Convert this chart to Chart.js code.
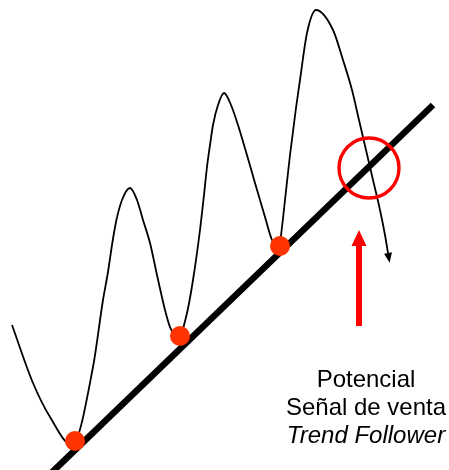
<!DOCTYPE html>
<html>
<head>
<meta charset="utf-8">
<script src="https://cdn.jsdelivr.net/npm/chart.js@4.4.1/dist/chart.umd.min.js"></script>
<style>
  html, body { margin: 0; padding: 0; background: #fff; }
  #wrap { width: 449px; height: 470px; position: relative; }
</style>
</head>
<body>
<div id="wrap"><canvas id="trendChart"></canvas></div>
<script>
// precio (curva fina)
const waveX = [12, 33, 50, 72, 93, 103, 108, 112, 116, 122, 130, 137, 143, 150, 157, 165, 170, 178,
  187, 193, 200, 204, 207, 210, 213, 218, 224, 231, 238, 244, 249, 255, 265, 272, 279,
  282, 285, 290, 296, 300, 307, 316, 333, 343, 352, 359, 366, 373, 380, 385, 388];
const waveY = [325, 383, 417, 445, 367, 300, 272, 245, 222, 200, 188, 200, 220, 243, 275, 310, 327, 339,
  313, 280, 230, 195, 167, 145, 125, 105, 93, 105, 125, 145, 162, 183, 217, 240, 248,
  227, 200, 155, 108, 80, 33, 10, 30, 60, 90, 120, 150, 180, 210, 235, 253];

// linea de tendencia
const trendX = [45, 433];
const trendY = [479, 105];

// minimos que tocan la tendencia
const touchX = [75, 180, 280];
const touchY = [441, 336, 246];

// ruptura
const breakX = [369];
const breakY = [168];

// flecha roja
const signalX = [359, 359];
const signalY = [326, 246];

const signalText = ["Potencial", "Señal de venta", "Trend Follower"];

function pts(xs, ys) {
  return xs.map(function (x, i) { return { x: x, y: ys[i] }; });
}

// dibuja la punta de flecha al final de los datasets marcados
const arrowHeads = {
  id: "arrowHeads",
  afterDatasetsDraw(chart) {
    const ctx = chart.ctx;
    const xs = chart.scales.x, ys = chart.scales.y;
    chart.data.datasets.forEach(function (ds) {
      if (!ds.arrowHead) return;
      const n = ds.data.length;
      const a = ds.data[n - 2], b = ds.data[n - 1];
      const ax = xs.getPixelForValue(a.x), ay = ys.getPixelForValue(a.y);
      const bx = xs.getPixelForValue(b.x), by = ys.getPixelForValue(b.y);
      const len = Math.hypot(bx - ax, by - ay);
      const ux = (bx - ax) / len, uy = (by - ay) / len;
      const L = ds.arrowHead.length, W = ds.arrowHead.width / 2;
      ctx.save();
      ctx.fillStyle = ds.borderColor;
      ctx.beginPath();
      ctx.moveTo(bx + ux * L, by + uy * L);
      ctx.lineTo(bx - uy * W, by + ux * W);
      ctx.lineTo(bx + uy * W, by - ux * W);
      ctx.closePath();
      ctx.fill();
      ctx.restore();
    });
  }
};

const signalLabel = {
  id: "signalLabel",
  afterDraw(chart, args, opts) {
    const ctx = chart.ctx;
    ctx.save();
    ctx.fillStyle = "#000";
    ctx.textAlign = "center";
    ctx.textBaseline = "alphabetic";
    signalText.forEach(function (t, i) {
      ctx.font = (i === 2 ? "italic " : "") + "24px 'Liberation Sans', Arial, sans-serif";
      ctx.fillText(t, opts.x, opts.y + i * opts.lineHeight);
    });
    ctx.restore();
  }
};

new Chart(document.getElementById("trendChart"), {
  type: "scatter",
  data: {
    datasets: [
      {
        label: "toques",
        data: pts(touchX, touchY),
        pointRadius: 10,
        pointBorderWidth: 0,
        pointBackgroundColor: "#ff3300",
        showLine: false,
        order: 0
      },
      {
        label: "ruptura",
        data: pts(breakX, breakY),
        pointRadius: 30,
        pointBorderWidth: 3.4,
        pointBorderColor: "#ff0000",
        pointBackgroundColor: "rgba(0,0,0,0)",
        showLine: false,
        order: 1
      },
      {
        label: "señal",
        data: pts(signalX, signalY),
        borderColor: "#ff0000",
        borderWidth: 6,
        pointRadius: 0,
        showLine: true,
        arrowHead: { length: 16, width: 15 },
        order: 2
      },
      {
        label: "tendencia",
        data: pts(trendX, trendY),
        borderColor: "#000",
        borderWidth: 6.5,
        pointRadius: 0,
        showLine: true,
        order: 3
      },
      {
        label: "precio",
        data: pts(waveX, waveY),
        borderColor: "#000",
        borderWidth: 1.8,
        pointRadius: 0,
        showLine: true,
        cubicInterpolationMode: "monotone",
        arrowHead: { length: 10, width: 8 },
        order: 4
      }
    ]
  },
  options: {
    responsive: true,
    maintainAspectRatio: false,
    animation: false,
    events: [],
    layout: { padding: 0, autoPadding: false },
    scales: {
      x: { type: "linear", min: 0, max: 449, display: false },
      y: { type: "linear", min: 0, max: 470, reverse: true, display: false }
    },
    plugins: {
      legend: { display: false },
      tooltip: { enabled: false },
      signalLabel: { x: 366, y: 387, lineHeight: 28 }
    }
  },
  plugins: [arrowHeads, signalLabel]
});
</script>
</body>
</html>
